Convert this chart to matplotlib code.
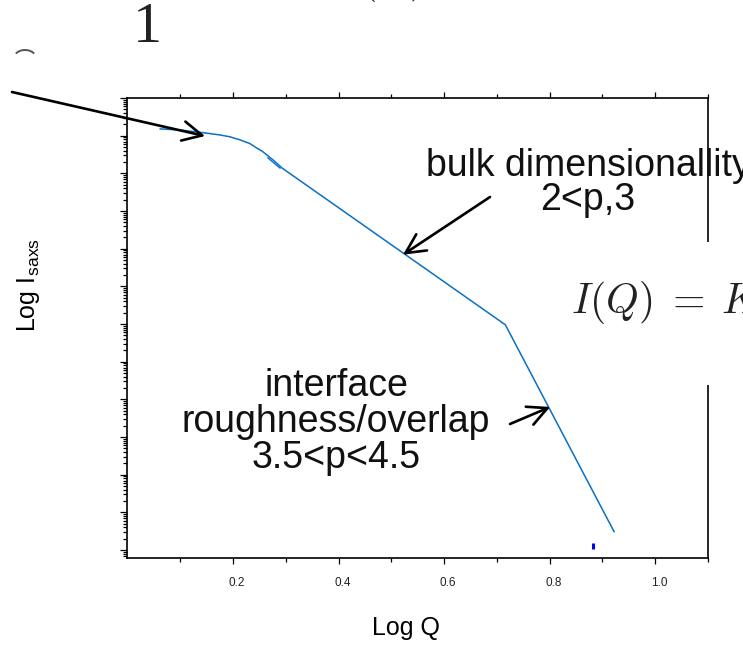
import matplotlib
matplotlib.use('Agg')
import matplotlib.pyplot as plt
from matplotlib.patches import Rectangle, Arc
from matplotlib.ticker import FixedLocator, LogLocator, NullFormatter, FormatStrFormatter
from matplotlib.transforms import ScaledTranslation
import numpy as np

W, H = 743, 646

# scattering curve: log Q against log10 of the intensity
log_q = [0.062, 0.100, 0.137, 0.175, 0.194, 0.213, 0.232, 0.245, 0.255, 0.264, 0.278, 0.293,
         0.716, 0.922]
log_i = [-0.82, -0.85, -0.91, -0.98, -1.03, -1.11, -1.21, -1.33, -1.41, -1.51, -1.67, -1.86,
         -6.02, -11.51]

# short stray stroke at the knee of the curve
knee_q = [0.266, 0.289]
knee_i = [-1.59, -1.86]

# single blue point near the bottom
dot_q = [0.882]
dot_i = [-11.88]

x_major = [0.2, 0.4, 0.6, 0.8, 1.0]
x_minor = [0.1, 0.3, 0.5, 0.7, 0.9, 1.1]

# arrow tips on the curve (log Q, log I)
arrow_tips = [(0.147, -1.01), (0.522, -4.16), (0.801, -8.20)]

LINE_BLUE = '#0a70c4'
FONT = 'Liberation Sans'


def fx(px):
    return px / W


def fy(py):
    return 1 - py / H


def main():
    plt.rcParams['mathtext.fontset'] = 'cm'
    fig = plt.figure(figsize=(W / 100, H / 100), dpi=100)
    ax = fig.add_axes([fx(127.5), fy(558), (708 - 127.5) / W, (558 - 98) / H])

    ax.plot(log_q, 10 ** np.array(log_i), color=LINE_BLUE, lw=1.1, solid_joinstyle='round')
    ax.plot(knee_q, 10 ** np.array(knee_i), color=LINE_BLUE, lw=1.0)
    ax.plot(dot_q, 10 ** np.array(dot_i), ls='none', marker='|', ms=4.5, mew=2.2, color='#0000ff')

    ax.set_yscale('log')
    ax.set_xlim(0, 1.1)
    ax.set_ylim(10 ** -12.21, 1.0)

    ax.xaxis.set_major_locator(FixedLocator(x_major))
    ax.xaxis.set_minor_locator(FixedLocator(x_minor))
    ax.xaxis.set_major_formatter(FormatStrFormatter('%.1f'))
    ax.yaxis.set_major_locator(LogLocator(base=10, numticks=40))
    ax.yaxis.set_minor_locator(LogLocator(base=10, subs=np.arange(2, 10), numticks=40))
    ax.yaxis.set_major_formatter(NullFormatter())
    ax.yaxis.set_minor_formatter(NullFormatter())

    ax.tick_params(which='both', direction='out', top=True, right=False, width=0.9)
    ax.tick_params(which='major', length=4.5, pad=9, labelsize=8.5, labelcolor='#222')
    ax.tick_params(axis='y', which='major', length=5)
    ax.tick_params(which='minor', length=2.6)
    for lab in ax.get_xticklabels():
        lab.set_fontfamily(FONT)
        lab.set_transform(lab.get_transform() + ScaledTranslation(0.04, 0, fig.dpi_scale_trans))

    for s in ax.spines.values():
        s.set_linewidth(1.2)

    arrow_style = dict(arrowstyle='->,head_length=0.7,head_width=0.35', color='black',
                       lw=1.9, mutation_scale=20, shrinkA=0, shrinkB=0)
    tails = [(12, 92), (490, 197), (510, 424)]
    for (q, li), (tx, ty) in zip(arrow_tips, tails):
        ax.annotate('', xy=(q, 10 ** li), xycoords='data',
                    xytext=(fx(tx), fy(ty)), textcoords='figure fraction',
                    arrowprops=arrow_style)

    fig.text(fx(588), fy(183), 'bulk dimensionallity\n2<p,3', ha='center', va='center',
             multialignment='center', fontsize=27, family=FONT, linespacing=0.92, color='#111')
    fig.text(fx(336), fy(422), 'interface\nroughness/overlap\n3.5<p<4.5', ha='center', va='center',
             multialignment='center', fontsize=27, family=FONT, linespacing=1.0, color='#111')

    # pasted formula hides part of the right spine
    fig.add_artist(Rectangle((fx(560), fy(385)), (W - 560) / W, (385 - 242) / H,
                             facecolor='white', edgecolor='none',
                             transform=fig.transFigure, zorder=5))
    fig.text(fx(571), fy(303), r'$I(Q)\;=\;K$', ha='left', va='center', fontsize=30,
             color='#222', zorder=6)
    fig.text(fx(392), fy(-9), r'$(Q)$', ha='center', va='baseline', fontsize=30, color='#222')
    fig.text(fx(147), fy(28), '1', ha='center', va='center', fontsize=42,
             family='Liberation Serif', color='#222')
    fig.add_artist(Arc((25 / 100, (H - 60) / 100), 0.24, 0.20, theta1=35, theta2=145,
                       transform=fig.dpi_scale_trans, color='#555', lw=1.4))

    fig.text(fx(406), fy(628), 'Log Q', ha='center', va='center', fontsize=18, family=FONT)
    fig.text(fx(28), fy(285), r'Log I$_{\mathregular{saxs}}$', rotation=90, ha='center',
             va='center', fontsize=18, family=FONT)

    fig.savefig('out.png', dpi=100)


if __name__ == '__main__':
    main()
